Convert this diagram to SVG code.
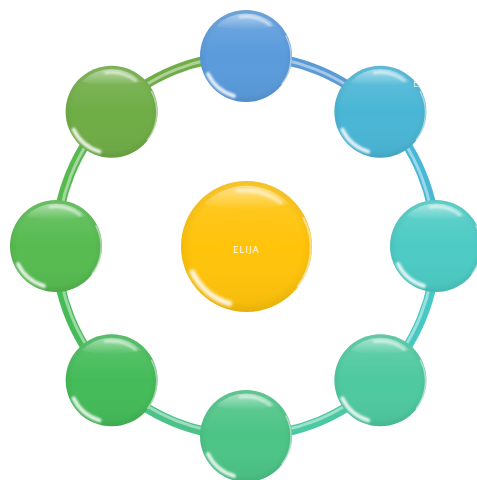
<svg xmlns="http://www.w3.org/2000/svg" width="477" height="480" viewBox="0 0 477 480">
<defs>
<style>
.tube{fill:none;stroke-width:9.5;stroke-linecap:butt}
.tubehl{fill:none;stroke:#ffffff;stroke-opacity:0.45;stroke-width:3}
.lbl{font-family:"Open Sans","Liberation Sans",sans-serif;font-size:9.5px;fill:#ffffff;letter-spacing:1px;text-anchor:middle}
</style>
<linearGradient id="shade" x1="0" y1="0" x2="0" y2="1">
<stop offset="0" stop-color="#ffffff" stop-opacity="0.14"/>
<stop offset="0.5" stop-color="#ffffff" stop-opacity="0"/>
<stop offset="1" stop-color="#000000" stop-opacity="0.05"/>
</linearGradient>
<radialGradient id="rim" cx="0.5" cy="0.5" r="0.5">
<stop offset="0.85" stop-color="#000000" stop-opacity="0"/>
<stop offset="1" stop-color="#000000" stop-opacity="0.05"/>
</radialGradient>
<linearGradient id="tophl" x1="0" y1="0" x2="0" y2="1">
<stop offset="0" stop-color="#ffffff" stop-opacity="0.45"/>
<stop offset="1" stop-color="#ffffff" stop-opacity="0"/>
</linearGradient>
<filter id="blur" x="-20%" y="-20%" width="140%" height="140%">
<feGaussianBlur stdDeviation="1.3"/>
</filter>
<g id="gloss">
<circle r="46" fill="url(#shade)"/>
<circle r="46" fill="url(#rim)"/>
<path d="M-30,-30 A42,42 0 0 1 30,-30 Q0,-22 -30,-30 Z" fill="url(#tophl)"/>
<path d="M-6,-39 A40,40 0 0 1 24,-31" fill="none" stroke="#ffffff" stroke-opacity="0.55" stroke-width="3" stroke-linecap="round" filter="url(#blur)"/>
<path d="M-38,18 A42,42 0 0 0 -12,40" fill="none" stroke="#ffffff" stroke-opacity="0.85" stroke-width="4" stroke-linecap="round" filter="url(#blur)"/>
<path d="M40,-20 A45,45 0 0 1 36,28" fill="none" stroke="#ffffff" stroke-opacity="0.5" stroke-width="1.5" stroke-linecap="round"/>
</g>
</defs>
<rect width="477" height="480" fill="#ffffff"/>
<g id="connectors">
<path class="tube" stroke="#5b9bd5" d="M246,56 A190,190 0 0 1 380.35,111.65"/>
<path class="tube" stroke="#48b8d6" d="M380.35,111.65 A190,190 0 0 1 436,246"/>
<path class="tube" stroke="#48c8c2" d="M436,246 A190,190 0 0 1 380.35,380.35"/>
<path class="tube" stroke="#4cc8a2" d="M380.35,380.35 A190,190 0 0 1 246,436"/>
<path class="tube" stroke="#4cc288" d="M246,436 A190,190 0 0 1 111.65,380.35"/>
<path class="tube" stroke="#46bb58" d="M111.65,380.35 A190,190 0 0 1 56,246"/>
<path class="tube" stroke="#58b950" d="M56,246 A190,190 0 0 1 111.65,111.65"/>
<path class="tube" stroke="#70ad47" d="M111.65,111.65 A190,190 0 0 1 246,56"/>
<path class="tubehl" d="M246,56 A188,188 0 0 1 434,246 A188,188 0 0 1 246,434 A188,188 0 0 1 58,246 A188,188 0 0 1 246,56"/>
</g>
<g id="n-top" transform="translate(246,56)"><circle r="46" fill="#5a9bdc"/><use href="#gloss"/></g>
<g id="n-topright" transform="translate(380.35,111.65)"><circle r="46" fill="#4ab6d6"/><use href="#gloss"/><text x="36" y="-25" class="lbl" style="font-size:10px;fill-opacity:0.8">E</text></g>
<g id="n-right" transform="translate(436,246)"><circle r="46" fill="#4ccbc4"/><use href="#gloss"/></g>
<g id="n-bottomright" transform="translate(380.35,380.35)"><circle r="46" fill="#4ec9a0"/><use href="#gloss"/></g>
<g id="n-bottom" transform="translate(246,436)"><circle r="46" fill="#4cc486"/><use href="#gloss"/></g>
<g id="n-bottomleft" transform="translate(111.65,380.35)"><circle r="46" fill="#44bb58"/><use href="#gloss"/></g>
<g id="n-left" transform="translate(56,246)"><circle r="46" fill="#56bb50"/><use href="#gloss"/></g>
<g id="n-topleft" transform="translate(111.65,111.65)"><circle r="46" fill="#6fad46"/><use href="#gloss"/></g>
<g id="n-center" transform="translate(246.5,246.5)">
<circle r="65.5" fill="#ffc30a"/>
<g transform="scale(1.424)"><use href="#gloss"/></g>
<text x="0" y="6" class="lbl">ELIJA</text>
</g>
</svg>
